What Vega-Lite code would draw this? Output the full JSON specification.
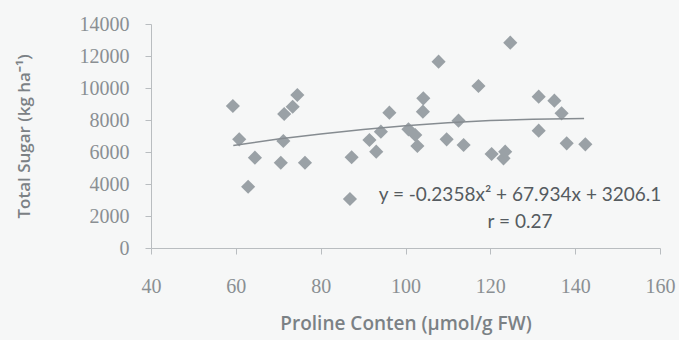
{
  "$schema": "https://vega.github.io/schema/vega-lite/v6.json",
  "width": 509,
  "height": 224,
  "autosize": {"type": "none"},
  "padding": {"left": 151, "top": 24, "right": 19, "bottom": 92},
  "background": "#f6f7f7",
  "config": {
    "view": {"stroke": null},
    "axis": {"grid": false, "domainColor": "#b9bdc0", "tickColor": "#b9bdc0", "labelColor": "#8a8f93", "titleColor": "#7b8185", "labelFont": "Liberation Serif", "labelFontSize": 20, "titleFont": "Open Sans", "titleFontSize": 17, "titleFontWeight": 600, "tickSize": 6, "labelOverlap": false, "labelFlush": false, "labelBound": false}
  },
  "datasets": {
    "pts": [
      {"proline": 59.3, "sugar": 8875},
      {"proline": 60.8, "sugar": 6790},
      {"proline": 62.9, "sugar": 3830},
      {"proline": 64.5, "sugar": 5645},
      {"proline": 70.6, "sugar": 5330},
      {"proline": 71.2, "sugar": 6690},
      {"proline": 71.4, "sugar": 8375},
      {"proline": 73.4, "sugar": 8830},
      {"proline": 74.5, "sugar": 9560},
      {"proline": 76.3, "sugar": 5330},
      {"proline": 86.9, "sugar": 3060},
      {"proline": 87.3, "sugar": 5670},
      {"proline": 91.5, "sugar": 6750},
      {"proline": 93.1, "sugar": 6020},
      {"proline": 94.2, "sugar": 7270},
      {"proline": 96.2, "sugar": 8458},
      {"proline": 100.7, "sugar": 7415},
      {"proline": 102.3, "sugar": 7060},
      {"proline": 102.8, "sugar": 6375},
      {"proline": 104.1, "sugar": 8520},
      {"proline": 104.2, "sugar": 9354},
      {"proline": 107.8, "sugar": 11645},
      {"proline": 109.7, "sugar": 6790},
      {"proline": 112.5, "sugar": 7960},
      {"proline": 113.7, "sugar": 6440},
      {"proline": 117.2, "sugar": 10125},
      {"proline": 120.3, "sugar": 5875},
      {"proline": 123.1, "sugar": 5604},
      {"proline": 123.5, "sugar": 6020},
      {"proline": 124.7, "sugar": 12833},
      {"proline": 131.4, "sugar": 9458},
      {"proline": 131.4, "sugar": 7333},
      {"proline": 135.1, "sugar": 9208},
      {"proline": 136.8, "sugar": 8417},
      {"proline": 138.0, "sugar": 6542},
      {"proline": 142.4, "sugar": 6480}
    ],
    "trend": [
      {"proline": 59.4, "sugar": 6400},
      {"proline": 70, "sugar": 6806},
      {"proline": 80, "sugar": 7132},
      {"proline": 90, "sugar": 7410},
      {"proline": 100, "sugar": 7642},
      {"proline": 110, "sugar": 7826},
      {"proline": 120, "sugar": 7963},
      {"proline": 130, "sugar": 8052},
      {"proline": 142.1, "sugar": 8098}
    ],
    "notes": [
      {"proline": 127, "sugar": 3312, "label": "y = -0.2358x² + 67.934x + 3206.1"},
      {"proline": 127, "sugar": 1625, "label": "r = 0.27"}
    ]
  },
  "encoding": {
    "x": {"field": "proline", "type": "quantitative", "scale": {"domain": [40, 160], "nice": false, "zero": false},
      "axis": {"values": [40, 60, 80, 100, 120, 140, 160], "title": "Proline Conten (µmol/g FW)", "titleFontSize": 19, "labelPadding": 22, "titlePadding": 18, "labelOverlap": false}},
    "y": {"field": "sugar", "type": "quantitative", "scale": {"domain": [0, 14000], "nice": false},
      "axis": {"values": [0, 2000, 4000, 6000, 8000, 10000, 12000, 14000], "format": "d", "title": "Total Sugar (kg ha⁻¹)", "labelPadding": 16, "titlePadding": 46, "labelOverlap": false}}
  },
  "layer": [
    {
      "data": {"name": "pts"},
      "mark": {"type": "point", "shape": "diamond", "filled": true, "size": 200, "color": "#9aa1a6", "opacity": 1}
    },
    {
      "data": {"name": "trend"},
      "mark": {"type": "line", "color": "#868c91", "strokeWidth": 1.5}
    },
    {
      "data": {"name": "notes"},
      "mark": {"type": "text", "font": "Lato", "fontSize": 19, "color": "#555b60", "align": "center", "baseline": "middle"},
      "encoding": {"text": {"field": "label"}}
    }
  ]
}
